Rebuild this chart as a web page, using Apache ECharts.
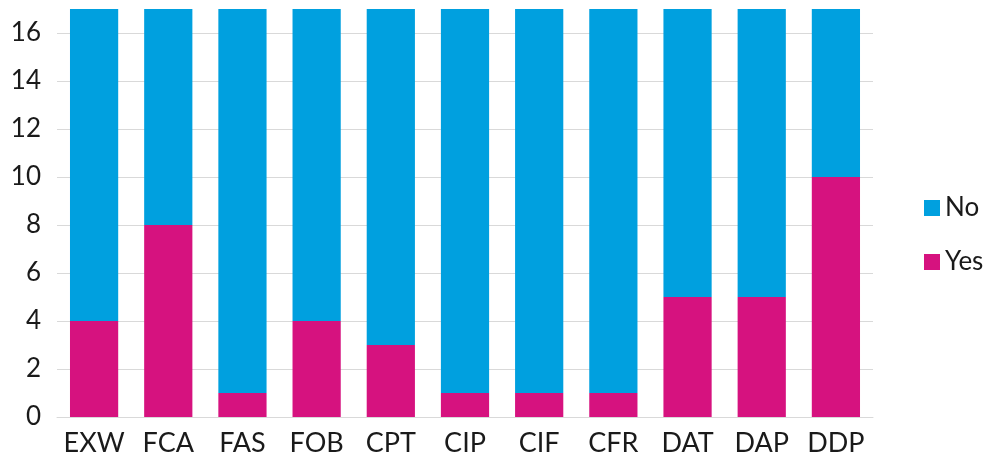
<!DOCTYPE html>
<html>
<head>
<meta charset="utf-8">
<script src="https://cdn.jsdelivr.net/npm/echarts@6/dist/echarts.min.js"></script>
<style>
  html, body { margin: 0; padding: 0; background: #fff; }
  #main { width: 986px; height: 466px; }
</style>
</head>
<body>
<div id="main"></div>
<script>
var categories = ['EXW', 'FCA', 'FAS', 'FOB', 'CPT', 'CIP', 'CIF', 'CFR', 'DAT', 'DAP', 'DDP'];
var yesValues = [4, 8, 1, 4, 3, 1, 1, 1, 5, 5, 10];
var noValues = [13, 9, 16, 13, 14, 16, 16, 16, 12, 12, 7];

var myChart = echarts.init(document.getElementById('main'));
var fontFam = 'Lato, "Open Sans", sans-serif';

var option = {
  animation: false,
  grid: {
    left: 57,
    right: 113,
    top: 9,
    bottom: 49
  },
  legend: {
    data: ['No', 'Yes'],
    orient: 'vertical',
    left: 919,
    top: 190,
    itemWidth: 16,
    itemHeight: 16,
    itemGap: 28,
    icon: 'rect',
    itemStyle: { borderWidth: 0 },
    textStyle: { fontFamily: fontFam, fontSize: 26, color: '#1a1a1a' }
  },
  xAxis: {
    type: 'category',
    data: categories,
    axisTick: { show: false },
    axisLine: { lineStyle: { color: '#d9d9d9', width: 1 } },
    axisLabel: {
      fontFamily: fontFam,
      fontSize: 27,
      color: '#1a1a1a',
      margin: 13,
      interval: 0
    }
  },
  yAxis: {
    type: 'value',
    min: 0,
    max: 17,
    interval: 2,
    axisLine: { show: false },
    axisTick: { show: false },
    axisLabel: {
      fontFamily: fontFam,
      fontSize: 26,
      color: '#1a1a1a',
      margin: 16,
      showMaxLabel: false
    },
    splitLine: {
      showMaxLine: false,
      lineStyle: { color: '#d9d9d9', width: 1 }
    }
  },
  series: [
    {
      name: 'Yes',
      type: 'bar',
      stack: 'total',
      barCategoryGap: '35%',
      data: yesValues,
      itemStyle: { color: '#d6127f' }
    },
    {
      name: 'No',
      type: 'bar',
      stack: 'total',
      barCategoryGap: '35%',
      data: noValues,
      itemStyle: { color: '#00a0df' }
    }
  ]
};

myChart.setOption(option);
</script>
</body>
</html>
